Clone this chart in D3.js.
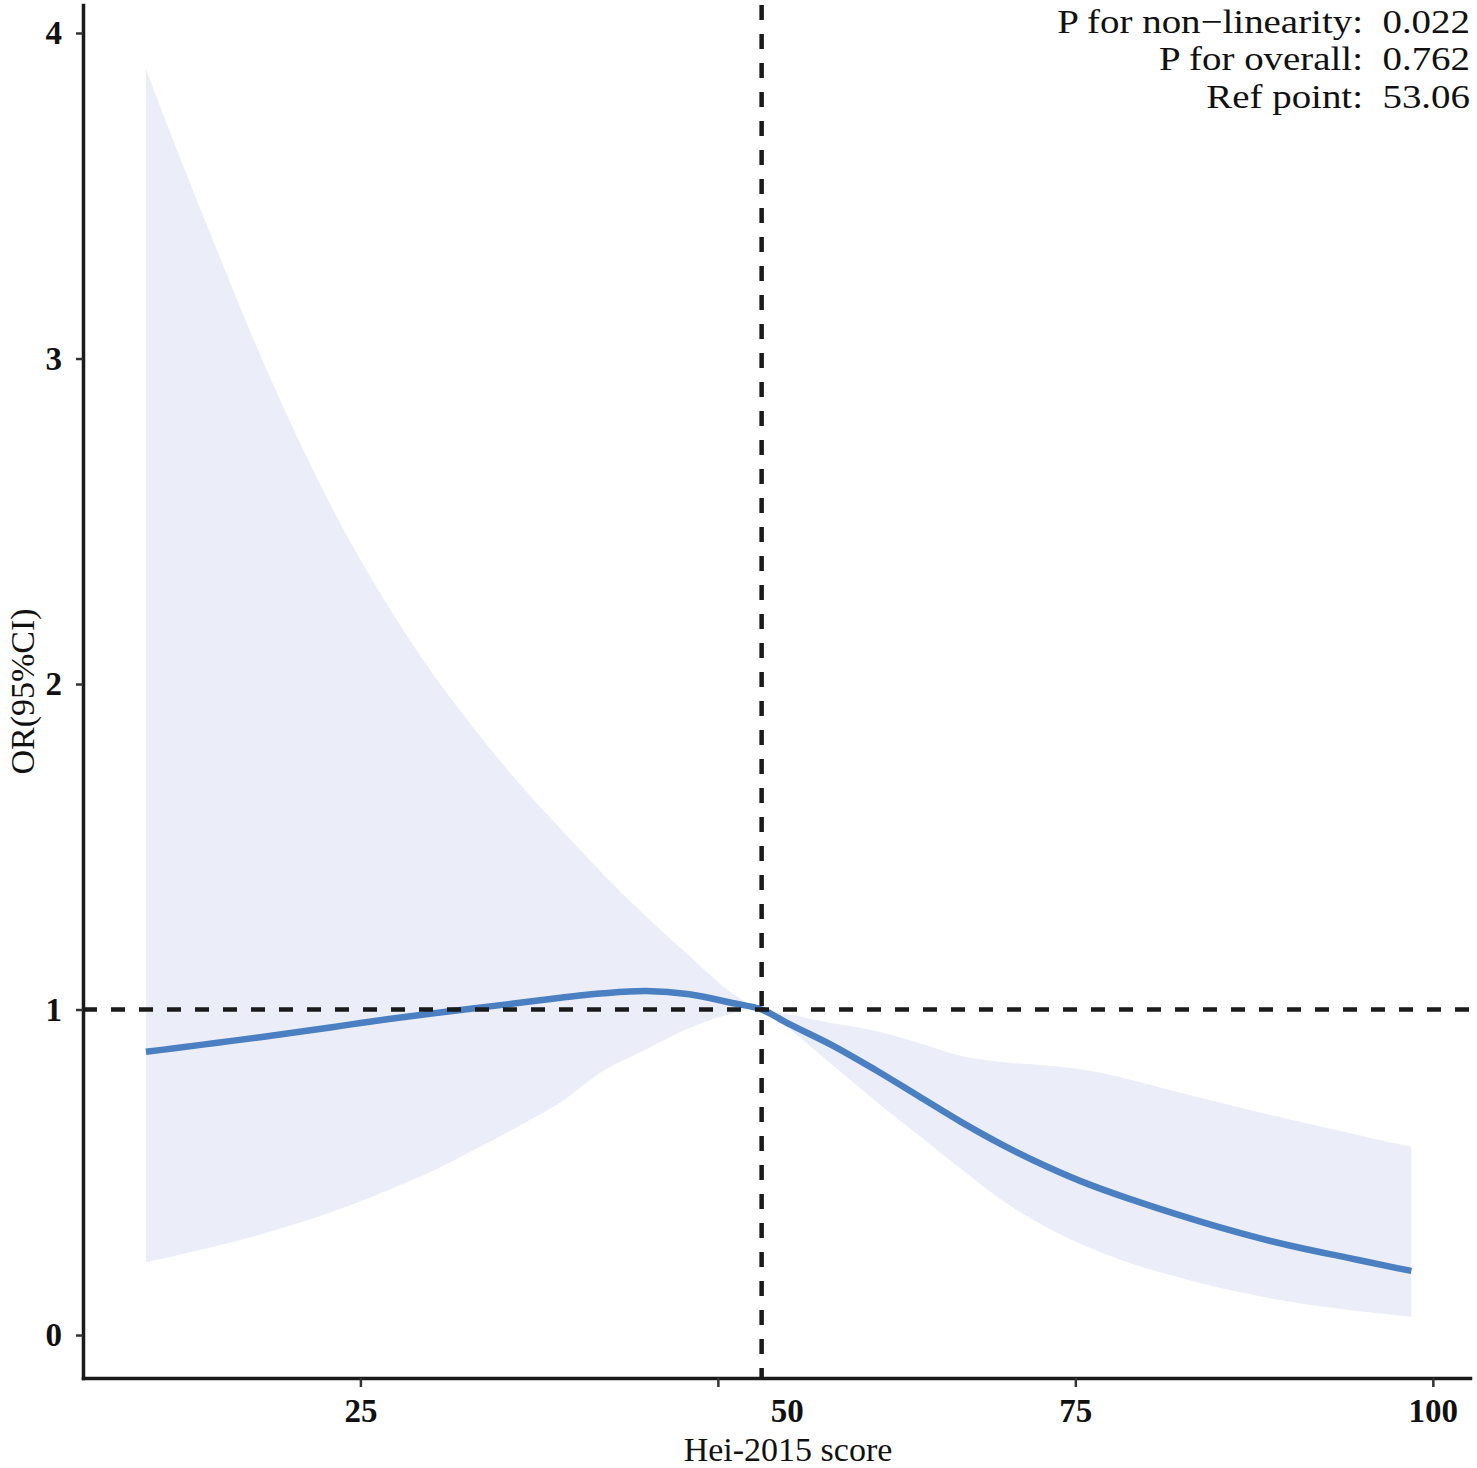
<!DOCTYPE html>
<html>
<head>
<meta charset="utf-8">
<script src="https://cdn.jsdelivr.net/npm/d3@7"></script>
<style>
  body { margin: 0; background: #fff; }
  svg text { font-family: "Liberation Serif", "Times New Roman", serif; fill: #111; }
</style>
</head>
<body>
<div id="chart"></div>
<script>
const WIDTH = 1477;
const HEIGHT = 1468;
const MARGIN = { left: 83, right: 7, top: 5, bottom: 90 };

// Hei-2015 score grid and the fitted spline (OR with 95% CI)
const score   = [10, 12, 15, 18, 21, 24, 27, 30, 33, 36, 39, 42, 45, 48, 51, 53.06,
                 55, 58, 61, 64, 67, 70, 73, 76, 79, 82, 85, 88, 91, 94, 97, 98.5];
const orValue = [0.870, 0.881, 0.898, 0.915, 0.933, 0.952, 0.971, 0.988,
                 1.004, 1.020, 1.036, 1.050, 1.057, 1.047, 1.020, 1.000,
                 0.955, 0.890, 0.815, 0.735, 0.655, 0.582, 0.518, 0.462,
                 0.415, 0.372, 0.332, 0.296, 0.265, 0.238, 0.210, 0.197];
const ciLower = [0.224, 0.243, 0.274, 0.309, 0.348, 0.394, 0.446, 0.503,
                 0.570, 0.640, 0.715, 0.812, 0.878, 0.943, 0.988, 1.000,
                 0.940, 0.830, 0.720, 0.615, 0.510, 0.410, 0.330, 0.268,
                 0.218, 0.180, 0.146, 0.118, 0.095, 0.078, 0.063, 0.056];
const ciUpper = [3.89, 3.66, 3.33, 3.01, 2.72, 2.46, 2.235, 2.035,
                 1.86, 1.70, 1.555, 1.415, 1.285, 1.165, 1.05, 1.00,
                 0.985, 0.958, 0.935, 0.898, 0.858, 0.838, 0.828, 0.812,
                 0.783, 0.748, 0.715, 0.683, 0.652, 0.622, 0.592, 0.578];

const xTicks = [25, 50, 75, 100];
const yTicks = [0, 1, 2, 3, 4];
const REF_POINT = 53.06;
const REF_OR = 1;
const annotations = [
    "P for non\u2212linearity:  0.022",
    "P for overall:  0.762",
    "Ref point:  53.06"
];

const data = score.map((s, i) => ({
    score: s, or: orValue[i], lower: ciLower[i], upper: ciUpper[i]
}));

const svg = d3.select('#chart').append('svg')
    .attr('width', WIDTH)
    .attr('height', HEIGHT);

const x = d3.scaleLinear()
    .domain([5.6, 102.6])
    .range([MARGIN.left, WIDTH - MARGIN.right]);

const y = d3.scaleLinear()
    .domain([-0.132, 4.086])
    .range([HEIGHT - MARGIN.bottom, MARGIN.top]);

const smooth = d3.curveCatmullRom.alpha(0.5);

// Confidence ribbon
svg.append('path')
    .datum(data)
    .attr('fill', '#ebeef8')
    .attr('d', d3.area()
        .x(d => x(d.score))
        .y0(d => y(d.lower))
        .y1(d => y(d.upper))
        .curve(smooth));

// OR line
svg.append('path')
    .datum(data)
    .attr('fill', 'none')
    .attr('stroke', '#4a7fc1')
    .attr('stroke-width', 6.5)
    .attr('d', d3.line()
        .x(d => x(d.score))
        .y(d => y(d.or))
        .curve(smooth));

// Reference lines
svg.append('line')
    .attr('x1', x.range()[0]).attr('x2', x.range()[1])
    .attr('y1', y(REF_OR)).attr('y2', y(REF_OR))
    .attr('stroke', '#1a1a1a')
    .attr('stroke-width', 4.5)
    .attr('stroke-dasharray', '14,14');

svg.append('line')
    .attr('x1', x(REF_POINT)).attr('x2', x(REF_POINT))
    .attr('y1', y.range()[1]).attr('y2', y.range()[0])
    .attr('stroke', '#1a1a1a')
    .attr('stroke-width', 4.5)
    .attr('stroke-dasharray', '15,14');

// X axis
const xAxis = svg.append('g')
    .attr('transform', `translate(0, ${y.range()[0]})`)
    .call(d3.axisBottom(x).tickValues(xTicks).tickSize(9).tickSizeOuter(0).tickPadding(12));

// the "50" label sits right of its tick in the original
xAxis.selectAll('.tick text')
    .filter(d => d === 50)
    .attr('dx', 69);

// Y axis
const yAxis = svg.append('g')
    .attr('transform', `translate(${x.range()[0]}, 0)`)
    .call(d3.axisLeft(y).tickValues(yTicks).tickFormat(d3.format('d'))
        .tickSize(7).tickSizeOuter(0).tickPadding(14));

[xAxis, yAxis].forEach(ax => {
    ax.select('.domain')
        .attr('stroke', '#1a1a1a')
        .attr('stroke-width', 3.5)
        .attr('stroke-linecap', 'square');
    ax.selectAll('.tick line')
        .attr('stroke', '#333')
        .attr('stroke-width', 2.5);
    ax.selectAll('.tick text')
        .attr('font-size', 33)
        .attr('font-weight', 'bold')
        .style('font-family', '"Liberation Serif", serif')
        .attr('fill', '#111');
});

// Axis titles
svg.append('text')
    .attr('x', 788)
    .attr('y', 1461)
    .attr('text-anchor', 'middle')
    .attr('font-size', 34)
    .text('Hei-2015 score');

svg.append('text')
    .attr('transform', `translate(22, ${(y.range()[0] + y.range()[1]) / 2}) rotate(-90)`)
    .attr('text-anchor', 'middle')
    .attr('dy', '0.35em')
    .attr('font-size', 34)
    .text('OR(95%CI)');

// Statistics in the top right corner (the original text is slightly wide)
svg.append('g')
    .attr('transform', 'translate(1470, 0) scale(1.145, 1)')
    .selectAll('text')
    .data(annotations)
    .join('text')
    .attr('x', 0)
    .attr('y', (d, i) => 33 + i * 37.5)
    .attr('text-anchor', 'end')
    .attr('font-size', 34)
    .style('white-space', 'pre')
    .text(d => d);
</script>
</body>
</html>
